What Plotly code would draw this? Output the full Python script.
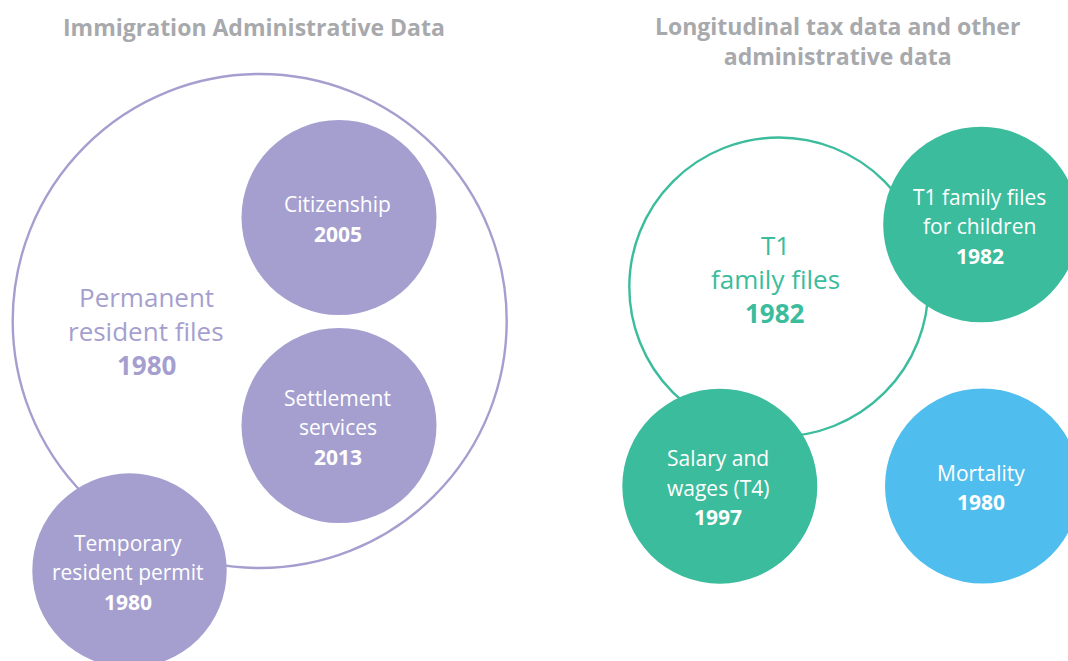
import plotly.graph_objects as go

# ---- data ----
panel_titles = ["Immigration Administrative Data",
                "Longitudinal tax data and other<br>administrative data"]
title_x = [254, 837]
title_y = [27, 41]

# outline (parent) circles
outline_names = [["Permanent", "resident files"], ["T1", "family files"]]
outline_years = ["1980", "1982"]
outline_cx = [259.7, 778.8]
outline_cy = [321, 287]
outline_r = [247, 149.5]
outline_label_x = [146, 775]
outline_label_y = [297, 244.5]

# filled (child) circles
child_names = [["Citizenship"], ["Settlement", "services"], ["Temporary", "resident permit"],
               ["T1 family files", "for children"], ["Salary and", "wages (T4)"], ["Mortality"]]
child_years = ["2005", "2013", "1980", "1982", "1997", "1980"]
child_cx = [339, 339, 129.5, 981, 719.8, 982.5]
child_cy = [217.5, 425.5, 570.5, 224.5, 486.2, 486]
child_r = [97.5, 97.5, 97.2, 97.8, 97.5, 97.5]

# ---- styles ----
PURPLE = "#a59fcf"
TEAL = "#3bbc9c"
BLUE = "#4fbded"
GREY = "#a7a9ac"
outline_colors = [PURPLE, TEAL]
child_colors = [PURPLE, PURPLE, PURPLE, TEAL, TEAL, BLUE]
FONT = "Open Sans"

W, H = 1068, 661
fig = go.Figure()
fig.add_trace(go.Scatter(x=[0, W], y=[0, H], mode="markers",
                         marker=dict(opacity=0), hoverinfo="skip", showlegend=False))

shapes = []
annotations = []

for cx, cy, r, col in zip(outline_cx, outline_cy, outline_r, outline_colors):
    shapes.append(dict(type="circle", xref="x", yref="y",
                       x0=cx - r, x1=cx + r, y0=cy - r, y1=cy + r,
                       line=dict(color=col, width=2.4), fillcolor="rgba(0,0,0,0)"))

for cx, cy, r, col in zip(child_cx, child_cy, child_r, child_colors):
    shapes.append(dict(type="circle", xref="x", yref="y",
                       x0=cx - r, x1=cx + r, y0=cy - r, y1=cy + r,
                       line=dict(width=0), fillcolor=col))

# titles
for t, x, y in zip(panel_titles, title_x, title_y):
    annotations.append(dict(x=x, y=y, xref="x", yref="y", text="<b>" + t + "</b>",
                            showarrow=False, xanchor="center", yanchor="middle",
                            font=dict(family=FONT, size=23, color=GREY)))

# outline labels
BIG_STEP = 34
for names, yr, lx, ly, col in zip(outline_names, outline_years, outline_label_x,
                                  outline_label_y, outline_colors):
    lines = names + ["<b>" + yr + "</b>"]
    for i, ln in enumerate(lines):
        annotations.append(dict(x=lx, y=ly + i * BIG_STEP, xref="x", yref="y", text=ln,
                                showarrow=False, xanchor="center", yanchor="middle",
                                font=dict(family=FONT, size=26, color=col)))

# child labels
STEP = 29.5
for names, yr, cx, cy in zip(child_names, child_years, child_cx, child_cy):
    lines = names + ["<b>" + yr + "</b>"]
    n = len(lines)
    start = cy - (n - 1) / 2 * STEP + 1.5
    for i, ln in enumerate(lines):
        annotations.append(dict(x=cx - 1.5, y=start + i * STEP, xref="x", yref="y", text=ln,
                                showarrow=False, xanchor="center", yanchor="middle",
                                font=dict(family=FONT, size=21, color="white")))

fig.update_layout(
    width=W, height=H, autosize=False,
    margin=dict(l=0, r=0, t=0, b=0),
    paper_bgcolor="white", plot_bgcolor="white",
    xaxis=dict(range=[0, W], visible=False, fixedrange=True),
    yaxis=dict(range=[H, 0], visible=False, fixedrange=True),
    shapes=shapes, annotations=annotations, showlegend=False,
)

fig.write_html("out.html", config={"displayModeBar": False},
               post_script="document.body.style.margin='0';document.body.style.overflow='hidden';")
